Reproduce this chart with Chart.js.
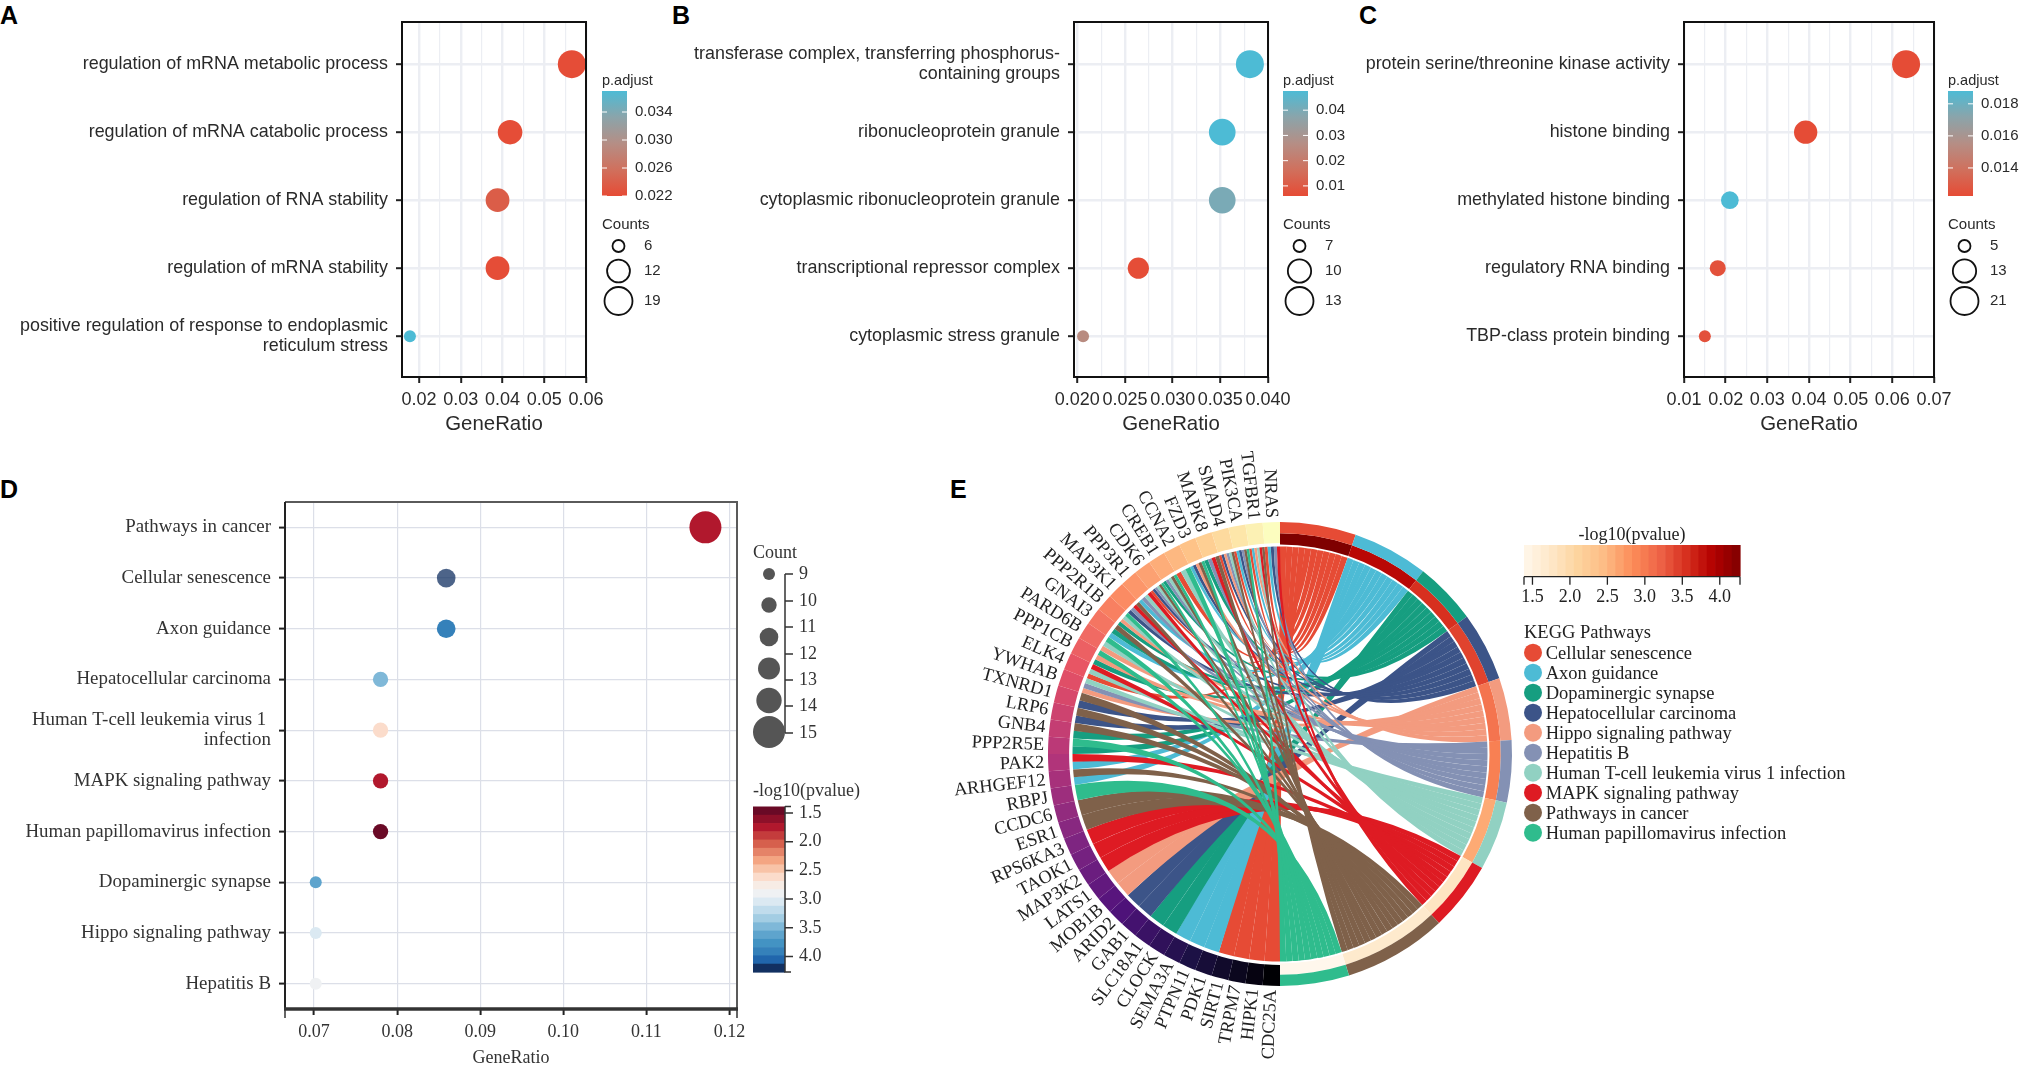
<!DOCTYPE html>
<html>
<head>
<meta charset="utf-8">
<title>Enrichment dot plots and KEGG chord</title>
<script src="https://cdn.jsdelivr.net/npm/chart.js@4"></script>
<style>
body { margin: 0; background: #fff; width: 2025px; height: 1069px; overflow: hidden; position: relative; }
canvas { position: absolute; }
.tag { position: absolute; font: bold 25px "Liberation Sans"; color: #000; line-height: 25px; }
</style>
</head>
<body>
<div class="tag" style="left:0;top:3px">A</div>
<div class="tag" style="left:672px;top:3px">B</div>
<div class="tag" style="left:1359px;top:3px">C</div>
<div class="tag" style="left:0;top:477px">D</div>
<div class="tag" style="left:950px;top:477px">E</div>
<canvas id="panelA" width="680" height="437" style="left:0;top:0"></canvas>
<canvas id="panelB" width="680" height="437" style="left:680px;top:0"></canvas>
<canvas id="panelC" width="668" height="437" style="left:1357px;top:0"></canvas>
<canvas id="panelD" width="930" height="599" style="left:0;top:470px"></canvas>
<canvas id="chordGenes" width="1095" height="629" style="left:930px;top:440px"></canvas>
<canvas id="chordPathways" width="1095" height="629" style="left:930px;top:440px"></canvas>
<script>
// Panel A
const termsA = [
    'regulation of mRNA metabolic process',
    'regulation of mRNA catabolic process',
    'regulation of RNA stability',
    'regulation of mRNA stability',
    ['positive regulation of response to endoplasmic', 'reticulum stress']
];
const ratioA = [0.0566, 0.0418, 0.0388, 0.0388, 0.0178];
const countsA = [19, 14, 13, 13, 6];
const padjustA = [0.0222, 0.0222, 0.0238, 0.0222, 0.037];
const padjustTicksA = [0.034, 0.030, 0.026, 0.022];
const countTicksA = [6, 12, 19];
const xTicksA = [0.02, 0.03, 0.04, 0.05, 0.06];

// Panel B
const termsB = [
    ['transferase complex, transferring phosphorus-', 'containing groups'],
    'ribonucleoprotein granule',
    'cytoplasmic ribonucleoprotein granule',
    'transcriptional repressor complex',
    'cytoplasmic stress granule'
];
const ratioB = [0.0381, 0.0352, 0.0352, 0.0264, 0.0206];
const countsB = [13, 12, 12, 9, 7];
const padjustB = [0.0476, 0.0476, 0.04, 0.0065, 0.0256];
const padjustTicksB = [0.04, 0.03, 0.02, 0.01];
const countTicksB = [7, 10, 13];
const xTicksB = [0.020, 0.025, 0.030, 0.035, 0.040];

// Panel C
const termsC = [
    'protein serine/threonine kinase activity',
    'histone binding',
    'methylated histone binding',
    'regulatory RNA binding',
    'TBP-class protein binding'
];
const ratioC = [0.0633, 0.0392, 0.0210, 0.0181, 0.0150];
const countsC = [21, 13, 7, 6, 5];
const padjustC = [0.0123, 0.0123, 0.0188, 0.0125, 0.0125];
const padjustTicksC = [0.018, 0.016, 0.014];
const countTicksC = [5, 13, 21];
const xTicksC = [0.01, 0.02, 0.03, 0.04, 0.05, 0.06, 0.07];

// Panel D
const termsD = [
    'Pathways in cancer',
    'Cellular senescence',
    'Axon guidance',
    'Hepatocellular carcinoma',
    ['Human T-cell leukemia virus 1 ', 'infection'],
    'MAPK signaling pathway',
    'Human papillomavirus infection',
    'Dopaminergic synapse',
    'Hippo signaling pathway',
    'Hepatitis B'
];
const ratioD = [0.1171, 0.0859, 0.0859, 0.078, 0.078, 0.078, 0.078, 0.0702, 0.0702, 0.0702];
const countsD = [15, 11, 11, 10, 10, 10, 10, 9, 9, 9];
const logpD = [1.7, 4.27, 3.85, 3.42, 2.6, 1.8, 1.39, 3.55, 3.05, 2.95];
const xTicksD = [0.07, 0.08, 0.09, 0.10, 0.11, 0.12];
const countTicksD = [9, 10, 11, 12, 13, 14, 15];
const countDotsD = [9, 10, 11, 12, 13, 15];
const logpTicksD = [1.5, 2.0, 2.5, 3.0, 3.5, 4.0];

// Panel E
const pathways = ['Cellular senescence', 'Axon guidance', 'Dopaminergic synapse', 'Hepatocellular carcinoma',
    'Hippo signaling pathway', 'Hepatitis B', 'Human T-cell leukemia virus 1 infection',
    'MAPK signaling pathway', 'Pathways in cancer', 'Human papillomavirus infection'];
const pathwayCounts = [11, 11, 9, 10, 9, 9, 10, 10, 15, 10];
const pathwayLogp = [4.27, 3.85, 3.55, 3.42, 3.05, 2.95, 2.6, 1.8, 1.7, 1.39];
const logpTicksE = [1.5, 2.0, 2.5, 3.0, 3.5, 4.0];

// genes run clockwise from the bottom of the circle to the top
const genes = ['CDC25A', 'HIPK1', 'TRPM7', 'SIRT1', 'PDK1', 'PTPN11', 'SEMA3A', 'CLOCK', 'SLC18A1', 'GAB1', 'ARID2',
    'MOB1B', 'LATS1', 'MAP3K2', 'TAOK1', 'RPS6KA3', 'ESR1', 'CCDC6', 'RBPJ', 'ARHGEF12', 'PAK2', 'PPP2R5E', 'GNB4',
    'LRP6', 'TXNRD1', 'YWHAB', 'ELK4', 'PPP1CB', 'PARD6B', 'GNAI3', 'PPP2R1B', 'MAP3K1', 'PPP3R1', 'CDK6', 'CREB1',
    'CCNA2', 'FZD3', 'MAPK8', 'SMAD4', 'PIK3CA', 'TGFBR1', 'NRAS'];
// which pathways (index into pathways) each gene belongs to
const geneLinks = [[0], [0], [0], [0], [1], [1], [1], [2], [2], [3], [3],
    [4], [4], [7], [7], [7], [8], [8], [9], [1, 8], [1, 7], [2, 9], [2, 8],
    [3, 8], [3, 8], [4, 5, 6], [0, 6, 7], [2, 4, 9], [4, 6, 9], [1, 2, 8], [2, 4, 6, 9], [3, 5, 7, 8], [1, 5, 6, 7], [0, 3, 5, 6, 8, 9], [2, 5, 6, 8, 9],
    [0, 6, 9], [1, 3, 4, 8, 9], [2, 5, 7, 8], [0, 3, 4, 5, 6, 8], [0, 1, 3, 5, 8, 9], [0, 1, 4, 6, 7, 8], [0, 1, 3, 5, 7]];

// Styles
const SANS = '"Liberation Sans"';
const SERIF = '"Liberation Serif"';
const padStops = ['#e64b35', '#d0705d', '#b58e85', '#8ba4aa', '#4dbbd5'];
const rdbu = ['#6a0a26', '#8e1029', '#b1182d', '#c43c3c', '#d6604d', '#e58368', '#f4a582', '#f8c3a7', '#fbdccb', '#f7ece5',
    '#eff1f3', '#dbe9f2', '#c0dcec', '#a3cde3', '#7fb8d8', '#5ea4cd', '#4393c3', '#3581ba', '#2166ac', '#123061'];
const orrd = ['#fff7ec', '#fee8c8', '#fdd49e', '#fdbb84', '#fc8d59', '#ef6548', '#d7301f', '#b30000', '#7f0000'];
const magma = ['#000004', '#1d1147', '#51127c', '#822681', '#b63679', '#e65164', '#fb8861', '#fec287', '#fcfdbf'];
const pathwayColors = ['#e64b35', '#4dbbd5', '#169e80', '#3c5488', '#f39b7f', '#8491b4', '#91d1c2', '#de1b23', '#7f614a', '#2fbc8d'];
const LOGP_MIN = 1.387;
const LOGP_MAX = 4.27;

function hexRgb(h) {
    return [parseInt(h.slice(1, 3), 16), parseInt(h.slice(3, 5), 16), parseInt(h.slice(5, 7), 16)];
}
function mix(a, b, t) {
    return 'rgb(' + a.map((v, i) => Math.round(v + (b[i] - v) * t)).join(',') + ')';
}
function ramp(stops, t) {
    t = Math.min(Math.max(t, 0), 1) * (stops.length - 1);
    const i = Math.min(Math.floor(t), stops.length - 2);
    return mix(hexRgb(stops[i]), hexRgb(stops[i + 1]), t - i);
}
function rdbuColor(v) {
    const i = Math.floor((v - LOGP_MIN) / (LOGP_MAX - LOGP_MIN) * rdbu.length);
    return rdbu[Math.min(Math.max(i, 0), rdbu.length - 1)];
}
function orrdColor(v) {
    return ramp(orrd, (v - LOGP_MIN) / (LOGP_MAX - LOGP_MIN));
}
// ggplot style size scale, area follows the count
function sizeScale(ticks) {
    const lo = ticks[0], hi = ticks[ticks.length - 1];
    return c => 6 + 8 * Math.sqrt((c - lo) / (hi - lo));
}
function sizeScaleD(c) {
    return 6 + (c - 9) * 10 / 6;
}

// Frame round the plot
const framePlugin = {
    id: 'frame',
    afterDraw(chart, args, opts) {
        const { ctx, chartArea: a } = chart;
        ctx.save();
        if (opts.serif) {
            ctx.strokeStyle = '#5a5a5a';
            ctx.lineWidth = 2;
            ctx.beginPath();
            ctx.moveTo(a.left, a.top); ctx.lineTo(a.right, a.top); ctx.lineTo(a.right, a.bottom);
            ctx.stroke();
            ctx.strokeStyle = '#222';
            ctx.beginPath();
            ctx.moveTo(a.left, a.top); ctx.lineTo(a.left, a.bottom);
            ctx.stroke();
            ctx.lineWidth = 3.5;
            ctx.strokeStyle = '#333';
            ctx.beginPath();
            ctx.moveTo(a.left - 1, a.bottom); ctx.lineTo(a.right + 1, a.bottom);
            ctx.stroke();
            ctx.lineWidth = 1.5;
            ctx.beginPath();
            ctx.moveTo(a.left, a.bottom); ctx.lineTo(a.left, a.bottom + 9);
            ctx.moveTo(a.right, a.bottom); ctx.lineTo(a.right, a.bottom + 9);
            ctx.stroke();
        } else {
            ctx.strokeStyle = '#111';
            ctx.lineWidth = 2;
            ctx.strokeRect(a.left, a.top, a.right - a.left, a.bottom - a.top);
        }
        ctx.restore();
    }
};

function dotChart(id, cfg) {
    const font = { family: cfg.family, size: cfg.fontSize, lineHeight: 1.08 };
    const points = cfg.ratio.map((v, i) => ({ x: v, y: i, r: cfg.radius[i] }));
    return new Chart(document.getElementById(id), {
        type: 'bubble',
        data: {
            datasets: [{
                data: points,
                backgroundColor: cfg.colors,
                borderWidth: 0,
                clip: 0
            }]
        },
        options: {
            responsive: false,
            animation: false,
            events: [],
            layout: { padding: { left: 0, top: cfg.box.top, right: cfg.box.right, bottom: 0 } },
            plugins: { legend: { display: false }, tooltip: { enabled: false }, frame: { serif: cfg.serif } },
            scales: {
                x: {
                    type: 'linear',
                    min: cfg.xMin,
                    max: cfg.xMax,
                    afterFit: s => { s.height = cfg.box.bottom; },
                    afterBuildTicks: s => {
                        const t = cfg.xTicks.map(v => ({ value: v }));
                        if (cfg.minor) {
                            const step = cfg.xTicks[1] - cfg.xTicks[0];
                            cfg.xTicks.slice(0, -1).forEach(v => t.push({ value: v + step / 2, isMinor: true }));
                        }
                        s.ticks = t.sort((a, b) => a.value - b.value);
                    },
                    border: { display: false },
                    grid: {
                        color: cfg.gridColor,
                        lineWidth: c => (c.tick && c.tick.isMinor) ? cfg.minorWidth : cfg.majorWidth,
                        tickColor: c => (c.tick && c.tick.isMinor) ? 'rgba(0,0,0,0)' : '#222',
                        tickWidth: 2,
                        tickLength: 6
                    },
                    ticks: {
                        autoSkip: false,
                        maxRotation: 0,
                        padding: cfg.xPad,
                        color: cfg.textColor,
                        font: { family: cfg.family, size: cfg.xFontSize },
                        callback: (v, i, t) => t[i].isMinor ? '' : v.toFixed(cfg.decimals)
                    },
                    title: {
                        display: true,
                        text: 'GeneRatio',
                        color: cfg.textColor,
                        padding: { top: cfg.titlePad, bottom: 0 },
                        font: { family: cfg.family, size: cfg.titleSize }
                    }
                },
                y: {
                    type: 'linear',
                    reverse: true,
                    min: cfg.yMin,
                    max: cfg.yMax,
                    afterFit: s => { s.width = cfg.box.left; s.paddingTop = 0; s.paddingBottom = 0; },
                    afterBuildTicks: s => { s.ticks = cfg.terms.map((_, i) => ({ value: i })); },
                    border: { display: false },
                    grid: { color: cfg.gridColor, lineWidth: cfg.majorWidth, tickColor: '#222', tickWidth: 2, tickLength: 6 },
                    ticks: {
                        autoSkip: false,
                        padding: 8,
                        color: cfg.textColor,
                        font: font,
                        callback: v => cfg.terms[v]
                    }
                }
            }
        },
        plugins: [framePlugin, cfg.legend]
    });
}

// p.adjust colour bar and Counts circles of panels A, B, C
function adjustLegend(x, lo, hi, ticks, decimals, counts, radius) {
    const top = 91, bottom = 196;
    return {
        id: 'adjustLegend',
        afterDraw(chart) {
            const ctx = chart.ctx;
            ctx.save();
            ctx.fillStyle = '#2a2a2a';
            ctx.font = '14.5px ' + SANS;
            ctx.textBaseline = 'middle';
            ctx.fillText('p.adjust', x, 81);
            const g = ctx.createLinearGradient(0, bottom, 0, top);
            padStops.forEach((c, i) => g.addColorStop(i / (padStops.length - 1), c));
            ctx.fillStyle = g;
            ctx.fillRect(x, top, 25, bottom - top);
            ctx.font = '15px ' + SANS;
            ticks.forEach(v => {
                const y = bottom - (v - lo) / (hi - lo) * (bottom - top);
                ctx.strokeStyle = '#fff';
                ctx.lineWidth = 1;
                ctx.beginPath();
                ctx.moveTo(x, y); ctx.lineTo(x + 5, y);
                ctx.moveTo(x + 20, y); ctx.lineTo(x + 25, y);
                ctx.stroke();
                ctx.fillStyle = '#2a2a2a';
                ctx.fillText(v.toFixed(decimals), x + 33, y);
            });
            ctx.fillText('Counts', x, 225);
            const ys = [246, 271, 301];
            counts.forEach((c, i) => {
                ctx.beginPath();
                ctx.arc(x + 16.5, ys[i], radius(c), 0, Math.PI * 2);
                ctx.strokeStyle = '#111';
                ctx.lineWidth = 1.8;
                ctx.stroke();
                ctx.fillStyle = '#2a2a2a';
                ctx.fillText(String(c), x + 42, ys[i]);
            });
            ctx.restore();
        }
    };
}

function dotCfg(o) {
    return Object.assign({
        family: SANS, fontSize: 17.9, xFontSize: 18, titleSize: 20.4, xPad: 6, titlePad: 8, textColor: '#2a2a2a',
        gridColor: '#eceef3', majorWidth: 2.4, minorWidth: 1.2, minor: true, serif: false,
        yMin: -0.62, yMax: 4.6
    }, o);
}
function padColors(values, lo, hi) {
    return values.map(p => ramp(padStops, (p - lo) / (hi - lo)));
}

const sizeA = sizeScale(countTicksA);
dotChart('panelA', dotCfg({
    terms: termsA, ratio: ratioA, radius: countsA.map(sizeA), colors: padColors(padjustA, 0.022, 0.037),
    xMin: 0.0159, xMax: 0.06, xTicks: xTicksA, decimals: 2,
    box: { left: 402, top: 22, right: 94, bottom: 60 },
    legend: adjustLegend(602, 0.022, 0.037, padjustTicksA, 3, countTicksA, sizeA)
}));
const sizeB = sizeScale(countTicksB);
dotChart('panelB', dotCfg({
    terms: termsB, ratio: ratioB, radius: countsB.map(sizeB), colors: padColors(padjustB, 0.006, 0.0476),
    xMin: 0.01965, xMax: 0.04, xTicks: xTicksB, decimals: 3,
    box: { left: 394, top: 22, right: 92, bottom: 60 },
    legend: adjustLegend(603, 0.006, 0.0476, padjustTicksB, 2, countTicksB, sizeB)
}));
const sizeC = sizeScale(countTicksC);
dotChart('panelC', dotCfg({
    terms: termsC, ratio: ratioC, radius: countsC.map(sizeC), colors: padColors(padjustC, 0.01225, 0.0188),
    xMin: 0.01, xMax: 0.07, xTicks: xTicksC, decimals: 2,
    box: { left: 327, top: 22, right: 91, bottom: 60 },
    legend: adjustLegend(591, 0.01225, 0.0188, padjustTicksC, 3, countTicksC, sizeC)
}));

// Count scale and colour bar of panel D
const legendD = {
    id: 'legendD',
    afterDraw(chart) {
        const ctx = chart.ctx;
        const x = 753, axis = 785;
        ctx.save();
        ctx.fillStyle = '#333';
        ctx.textBaseline = 'middle';
        ctx.font = '18px ' + SERIF;
        ctx.fillText('Count', x, 83);
        const ys = [104, 131, 157, 184, 210, 236, 263];
        ctx.strokeStyle = '#333';
        ctx.lineWidth = 1.5;
        ctx.beginPath();
        ctx.moveTo(axis, 104); ctx.lineTo(axis, 263);
        ys.forEach(y => { ctx.moveTo(axis, y); ctx.lineTo(axis + 8, y); });
        ctx.moveTo(axis, 104);
        ctx.stroke();
        countTicksD.forEach((c, i) => ctx.fillText(String(c), axis + 14, ys[i]));
        const dotYs = [104, 135, 167, 198.5, 230.5, 262];
        ctx.fillStyle = '#555';
        countDotsD.forEach((c, i) => {
            ctx.beginPath();
            ctx.arc(769, dotYs[i], sizeScaleD(c), 0, Math.PI * 2);
            ctx.fill();
        });
        ctx.fillStyle = '#333';
        ctx.fillText('-log10(pvalue)', x, 321);
        const top = 336.5, bottom = 502;
        rdbu.forEach((c, i) => {
            ctx.fillStyle = c;
            ctx.fillRect(x, top + (bottom - top) * i / rdbu.length, axis - x, (bottom - top) / rdbu.length + 0.6);
        });
        ctx.strokeStyle = '#333';
        ctx.beginPath();
        ctx.moveTo(axis, top); ctx.lineTo(axis, bottom); ctx.lineTo(axis + 6, bottom);
        ctx.moveTo(axis, top); ctx.lineTo(axis + 6, top);
        ctx.fillStyle = '#333';
        logpTicksD.forEach(v => {
            const y = top + (v - LOGP_MIN) / (LOGP_MAX - LOGP_MIN) * (bottom - top);
            ctx.moveTo(axis, y); ctx.lineTo(axis + 8, y);
            ctx.fillText(v.toFixed(1), axis + 14, y);
        });
        ctx.stroke();
        ctx.restore();
    }
};

const dotOpacityD = [1, 0.75, 1, 1, 1, 1, 1, 1, 1, 1];
dotChart('panelD', dotCfg({
    family: SERIF, fontSize: 18.9, xFontSize: 18, titleSize: 18, xPad: 6, titlePad: 2, textColor: '#333',
    gridColor: '#dcdfe8', majorWidth: 1.2, minor: false, serif: true,
    terms: termsD, ratio: ratioD, radius: countsD.map(sizeScaleD),
    colors: logpD.map((v, i) => {
        const c = hexRgb(rdbuColor(v));
        return 'rgba(' + c.join(',') + ',' + dotOpacityD[i] + ')';
    }),
    yMin: -0.5, yMax: 9.5,
    xMin: 0.0665, xMax: 0.1209, xTicks: xTicksD, decimals: 2,
    box: { left: 285, top: 32, right: 193, bottom: 60 },
    legend: legendD
}));

// Panel E, centre of the circle ends up at 350,314 on the canvas
const chordLayout = { padding: { left: 118, right: 513, top: 82, bottom: 83 } };
const HIDDEN = 'rgba(0,0,0,0)';
const geneSlots = genes.map(() => 1);

const geneLabels = {
    id: 'geneLabels',
    afterDraw(chart) {
        const ctx = chart.ctx;
        const arcs = chart.getDatasetMeta(0).data;
        ctx.save();
        ctx.fillStyle = '#222';
        ctx.font = '18.4px ' + SERIF;
        ctx.textAlign = 'right';
        ctx.textBaseline = 'middle';
        genes.forEach((g, i) => {
            const a = (arcs[i].startAngle + arcs[i].endAngle) / 2;
            ctx.save();
            ctx.translate(arcs[i].x, arcs[i].y);
            ctx.rotate(a + Math.PI);
            ctx.fillText(g, -arcs[i].outerRadius - 4, 0);
            ctx.restore();
        });
        ctx.restore();
    }
};

const geneChart = new Chart(document.getElementById('chordGenes'), {
    type: 'doughnut',
    data: {
        labels: genes.concat(['']),
        datasets: [{
            data: geneSlots.concat([genes.length]),
            backgroundColor: genes.map((g, i) => ramp(magma, i / (genes.length - 1))).concat([HIDDEN]),
            borderWidth: 0
        }]
    },
    options: {
        responsive: false,
        animation: false,
        events: [],
        rotation: 180,
        cutout: '90.9%',
        layout: chordLayout,
        plugins: { legend: { display: false }, tooltip: { enabled: false } }
    },
    plugins: [geneLabels]
});

const ribbons = {
    id: 'ribbons',
    beforeDatasetsDraw(chart) {
        const ctx = chart.ctx;
        const pArcs = chart.getDatasetMeta(0).data;
        const gArcs = geneChart.getDatasetMeta(0).data;
        const cx = pArcs[0].x, cy = pArcs[0].y, r = 207.5;
        const used = pathways.map(() => 0);
        const links = [];
        genes.forEach((g, gi) => {
            const w = (gArcs[gi].endAngle - gArcs[gi].startAngle) / geneLinks[gi].length;
            geneLinks[gi].forEach((p, j) => {
                const slot = (pArcs[p].endAngle - pArcs[p].startAngle) / pathwayCounts[p];
                links.push({
                    p: p,
                    g0: gArcs[gi].startAngle + j * w,
                    g1: gArcs[gi].startAngle + (j + 1) * w,
                    p0: pArcs[p].startAngle + used[p] * slot,
                    p1: pArcs[p].startAngle + (used[p] + 1) * slot
                });
                used[p]++;
            });
        });
        ctx.save();
        pathways.forEach((name, p) => {
            ctx.fillStyle = pathwayColors[p];
            links.filter(l => l.p === p).forEach(l => {
                ctx.beginPath();
                ctx.arc(cx, cy, r, l.g0, l.g1);
                ctx.quadraticCurveTo(cx, cy, cx + r * Math.cos(l.p0), cy + r * Math.sin(l.p0));
                ctx.arc(cx, cy, r, l.p0, l.p1);
                ctx.quadraticCurveTo(cx, cy, cx + r * Math.cos(l.g0), cy + r * Math.sin(l.g0));
                ctx.closePath();
                ctx.fill();
            });
        });
        ctx.restore();
    }
};

const legendE = {
    id: 'legendE',
    afterDraw(chart) {
        const ctx = chart.ctx;
        const left = 594, right = 810, top = 105, bottom = 136.7;
        ctx.save();
        ctx.fillStyle = '#222';
        ctx.font = '18px ' + SERIF;
        ctx.textBaseline = 'middle';
        ctx.textAlign = 'center';
        ctx.fillText('-log10(pvalue)', 702, 95);
        const bands = 26;
        for (let i = 0; i < bands; i++) {
            ctx.fillStyle = ramp(orrd, (i + 0.5) / bands);
            ctx.fillRect(left + (right - left) * i / bands, top, (right - left) / bands + 0.6, bottom - top);
        }
        ctx.fillStyle = '#222';
        ctx.strokeStyle = '#222';
        ctx.lineWidth = 1.3;
        ctx.beginPath();
        ctx.moveTo(left, bottom); ctx.lineTo(right, bottom);
        ctx.moveTo(left, bottom); ctx.lineTo(left, bottom + 8);
        ctx.moveTo(right, bottom); ctx.lineTo(right, bottom + 8);
        logpTicksE.forEach(v => {
            const x = left + (v - LOGP_MIN) / (LOGP_MAX - LOGP_MIN) * (right - left);
            ctx.moveTo(x, bottom); ctx.lineTo(x, bottom + 8);
            ctx.fillText(v.toFixed(1), x, 157);
        });
        ctx.stroke();
        ctx.textAlign = 'left';
        ctx.font = '18.5px ' + SERIF;
        ctx.fillText('KEGG Pathways', left, 193);
        pathways.forEach((name, i) => {
            const y = 212.7 + i * 20;
            ctx.fillStyle = pathwayColors[i];
            ctx.beginPath();
            ctx.arc(603, y, 9, 0, Math.PI * 2);
            ctx.fill();
            ctx.fillStyle = '#222';
            ctx.fillText(name, 615.7, y + 1);
        });
        ctx.restore();
    }
};

const ringTotal = pathwayCounts.reduce((a, b) => a + b, 0);
new Chart(document.getElementById('chordPathways'), {
    type: 'doughnut',
    data: {
        labels: pathways.concat(['']),
        datasets: [{
            data: pathwayCounts.concat([ringTotal]),
            backgroundColor: pathwayColors.concat([HIDDEN]),
            borderWidth: 0
        }, {
            data: pathwayCounts.concat([ringTotal]),
            backgroundColor: pathwayLogp.map(orrdColor).concat([HIDDEN]),
            borderWidth: 0
        }]
    },
    options: {
        responsive: false,
        animation: false,
        events: [],
        cutout: '90.3%',
        layout: chordLayout,
        plugins: { legend: { display: false }, tooltip: { enabled: false } }
    },
    plugins: [ribbons, legendE]
});
</script>
</body>
</html>
